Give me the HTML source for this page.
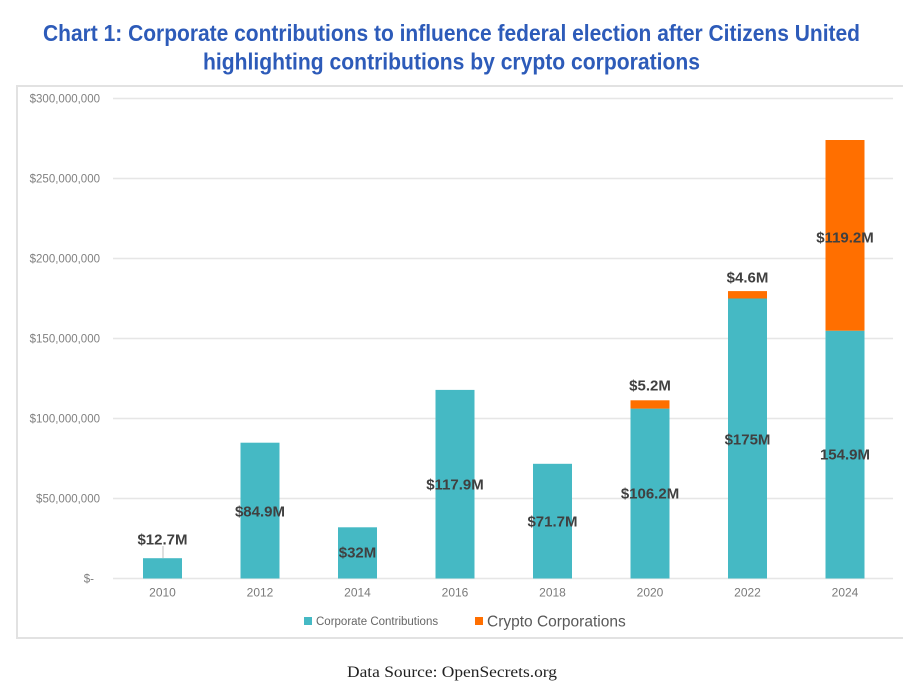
<!DOCTYPE html>
<html>
<head>
<meta charset="utf-8">
<style>
  html, body { margin: 0; padding: 0; background: #ffffff; }
  body { width: 903px; height: 694px; overflow: hidden; }
  svg { display: block; }
</style>
</head>
<body>
<svg width="903" height="694" viewBox="0 0 903 694" xmlns="http://www.w3.org/2000/svg">
  <rect x="0" y="0" width="903" height="694" fill="#ffffff"/>

  <!-- Title -->
  <text x="43" y="41" font-family="Liberation Sans, Arial, sans-serif" font-size="23" font-weight="bold" fill="#2d5bb9" textLength="817" lengthAdjust="spacingAndGlyphs">Chart 1: Corporate contributions to influence federal election after Citizens United</text>
  <text x="203" y="69.5" font-family="Liberation Sans, Arial, sans-serif" font-size="23" font-weight="bold" fill="#2d5bb9" textLength="497" lengthAdjust="spacingAndGlyphs">highlighting contributions by crypto corporations</text>

  <!-- Chart frame -->
  <rect x="17" y="86" width="900" height="552" fill="#ffffff" stroke="#e2e2e2" stroke-width="2"/>

  <!-- Gridlines -->
  <g stroke="#e6e6e6" stroke-width="1.5">
    <line x1="113" y1="98.5" x2="893" y2="98.5"/>
    <line x1="113" y1="178.5" x2="893" y2="178.5"/>
    <line x1="113" y1="258.5" x2="893" y2="258.5"/>
    <line x1="113" y1="338.5" x2="893" y2="338.5"/>
    <line x1="113" y1="418.5" x2="893" y2="418.5"/>
    <line x1="113" y1="498.5" x2="893" y2="498.5"/>
    <line x1="113" y1="578.5" x2="893" y2="578.5"/>
  </g>

  <!-- Y axis labels -->
  <g font-family="Liberation Sans, Arial, sans-serif" font-size="11.5" fill="#808080" text-anchor="end">
    <text x="100" y="102.5">$300,000,000</text>
    <text x="100" y="182.5">$250,000,000</text>
    <text x="100" y="262.5">$200,000,000</text>
    <text x="100" y="342.5">$150,000,000</text>
    <text x="100" y="422.5">$100,000,000</text>
    <text x="100" y="502.5">$50,000,000</text>
    <text x="94" y="582.5">$-</text>
  </g>

  <!-- Bars: corporate (teal) -->
  <g fill="#45b9c4">
    <rect x="143" y="558.2" width="39" height="20.3"/>
    <rect x="240.5" y="442.7" width="39" height="135.8"/>
    <rect x="338" y="527.3" width="39" height="51.2"/>
    <rect x="435.5" y="389.9" width="39" height="188.6"/>
    <rect x="533" y="463.8" width="39" height="114.7"/>
    <rect x="630.5" y="408.6" width="39" height="169.9"/>
    <rect x="728" y="298.5" width="39" height="280"/>
    <rect x="825.5" y="330.7" width="39" height="247.8"/>
  </g>
  <!-- Bars: crypto (orange) -->
  <g fill="#ff6f00">
    <rect x="630.5" y="400.3" width="39" height="8.3"/>
    <rect x="728" y="291.1" width="39" height="7.4"/>
    <rect x="825.5" y="140" width="39" height="190.7"/>
  </g>

  <!-- Leader line for 2010 -->
  <line x1="163" y1="546" x2="163" y2="558" stroke="#bfbfbf" stroke-width="1"/>

  <!-- Data labels -->
  <g font-family="Liberation Sans, Arial, sans-serif" font-size="15" font-weight="bold" fill="#404040" text-anchor="middle">
    <text x="162.5" y="544.4">$12.7M</text>
    <text x="260" y="516.4">$84.9M</text>
    <text x="357.5" y="557.4">$32M</text>
    <text x="455" y="489.4">$117.9M</text>
    <text x="552.5" y="526.4">$71.7M</text>
    <text x="650" y="498.4">$106.2M</text>
    <text x="650" y="390.4">$5.2M</text>
    <text x="747.5" y="444.4">$175M</text>
    <text x="747.5" y="282.4">$4.6M</text>
    <text x="845" y="459.4">154.9M</text>
    <text x="845" y="242.4">$119.2M</text>
  </g>

  <!-- X axis labels -->
  <g font-family="Liberation Sans, Arial, sans-serif" font-size="12" fill="#7a7a7a" text-anchor="middle">
    <text x="162.5" y="596.3">2010</text>
    <text x="260" y="596.3">2012</text>
    <text x="357.5" y="596.3">2014</text>
    <text x="455" y="596.3">2016</text>
    <text x="552.5" y="596.3">2018</text>
    <text x="650" y="596.3">2020</text>
    <text x="747.5" y="596.3">2022</text>
    <text x="845" y="596.3">2024</text>
  </g>

  <!-- Legend -->
  <rect x="304" y="617" width="8" height="8" fill="#45b9c4"/>
  <text x="316" y="625" font-family="Liberation Sans, Arial, sans-serif" font-size="11.5" fill="#666666">Corporate Contributions</text>
  <rect x="475" y="617" width="8" height="8" fill="#ff6f00"/>
  <text x="487" y="626.5" font-family="Liberation Sans, Arial, sans-serif" font-size="15.5" fill="#595959">Crypto Corporations</text>

  <!-- Source -->
  <text x="347" y="677" font-family="Liberation Serif, Times New Roman, serif" font-size="16" fill="#222222" textLength="210" lengthAdjust="spacingAndGlyphs">Data Source: OpenSecrets.org</text>
</svg>
</body>
</html>
